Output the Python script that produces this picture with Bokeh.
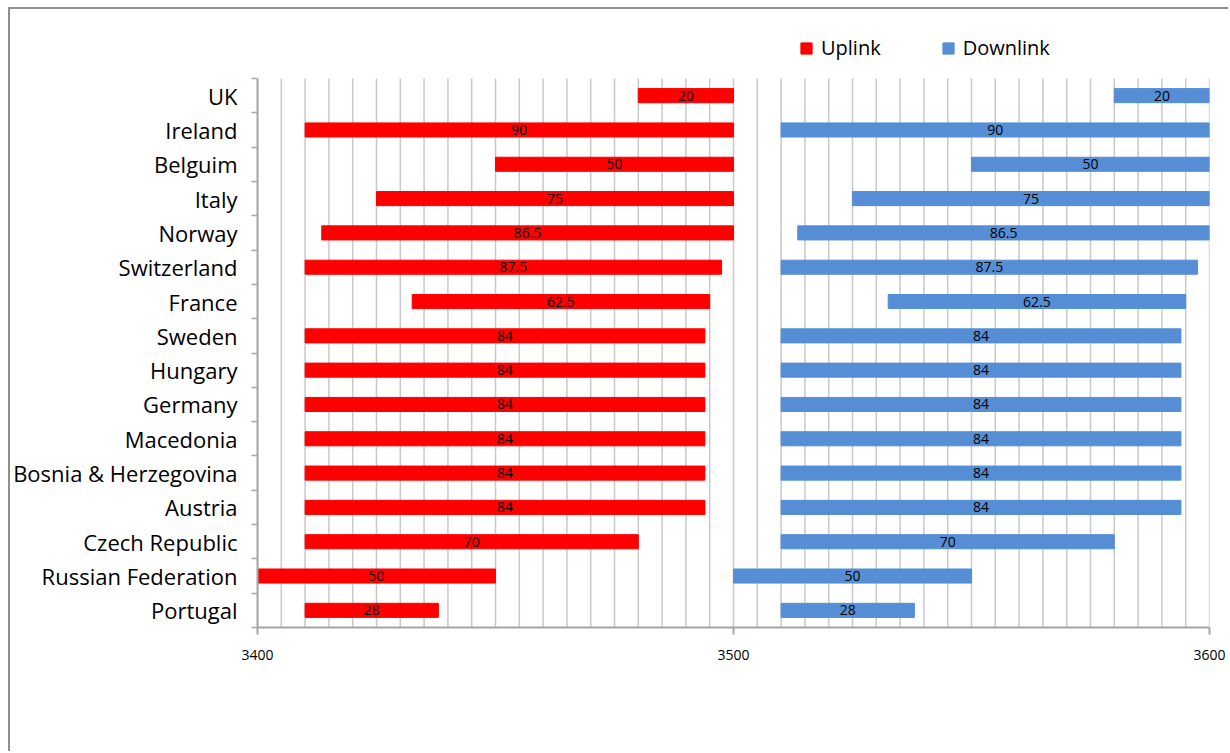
from bokeh.plotting import figure
from bokeh.models import (ColumnDataSource, FixedTicker, Range1d, Legend, LegendItem)
from bokeh.embed import file_html
from bokeh.resources import INLINE
from bokeh.core.properties import value

# ---- data (top to bottom) ----
countries = ["UK", "Ireland", "Belguim", "Italy", "Norway", "Switzerland", "France",
             "Sweden", "Hungary", "Germany", "Macedonia", "Bosnia & Herzegovina",
             "Austria", "Czech Republic", "Russian Federation", "Portugal"]
uplink_start = [3480, 3410, 3450, 3425, 3413.5, 3410, 3432.5, 3410, 3410, 3410, 3410, 3410,
                3410, 3410, 3400, 3410]
uplink_end = [3500, 3500, 3500, 3500, 3500, 3497.5, 3495, 3494, 3494, 3494, 3494, 3494,
              3494, 3480, 3450, 3438]
downlink_start = [3580, 3510, 3550, 3525, 3513.5, 3510, 3532.5, 3510, 3510, 3510, 3510, 3510,
                  3510, 3510, 3500, 3510]
downlink_end = [3600, 3600, 3600, 3600, 3600, 3597.5, 3595, 3594, 3594, 3594, 3594, 3594,
                3594, 3580, 3550, 3538]
bandwidth = ["20", "90", "50", "75", "86.5", "87.5", "62.5", "84", "84", "84", "84", "84",
             "84", "70", "50", "28"]
x_ticks = [3400, 3500, 3600]
grid_step = 5

FONT = "Open Sans"
n = len(countries)
ypos = [n - 1 - i + 0.5 for i in range(n)]
row_px = 549 / n            # pixel height of one category row
legend_rows = 58 / row_px   # extra room above the rows for the legend

src = ColumnDataSource(dict(
    y=ypos, country=countries,
    us=uplink_start, ue=uplink_end, ds=downlink_start, de=downlink_end,
    um=[(a + b) / 2 for a, b in zip(uplink_start, uplink_end)],
    dm=[(a + b) / 2 for a, b in zip(downlink_start, downlink_end)],
    bw=bandwidth,
))

p = figure(width=1220, height=744, output_backend="svg", toolbar_location=None,
           x_range=Range1d(x_ticks[0], x_ticks[-1]), y_range=Range1d(0, n + legend_rows),
           min_border_left=240, min_border_right=21, min_border_top=11, min_border_bottom=126)
p.outline_line_color = None
p.styles = {"border-left": "2px solid #8f8f8f", "border-top": "2px solid #8f8f8f",
            "margin-left": "8px", "margin-top": "7px"}

# vertical grid lines limited to the category rows
gx = list(range(x_ticks[0], x_ticks[-1] + 1, grid_step))
p.segment(x0=gx, x1=gx, y0=[0] * len(gx), y1=[n] * len(gx), line_color="#c8c8c8",
          line_width=1.5)
p.xgrid.grid_line_color = None
p.ygrid.grid_line_color = None

up = p.hbar(y="y", left="us", right="ue", height=0.41, source=src, color="#FF0000")
down = p.hbar(y="y", left="ds", right="de", height=0.41, source=src, color="#558ED5")

p.text(x="um", y="y", text="bw", source=src, text_align="center", text_baseline="middle",
       text_font=value(FONT), text_font_size="14px", text_color="#000000")
p.text(x="dm", y="y", text="bw", source=src, text_align="center", text_baseline="middle",
       text_font=value(FONT), text_font_size="14px", text_color="#000000")

# x axis
p.xaxis.ticker = FixedTicker(ticks=x_ticks)
p.xaxis.major_label_text_font = FONT
p.xaxis.major_label_text_font_size = "14px"
p.xaxis.major_label_text_color = "#000000"
p.xaxis.axis_line_color = "#a6a6a6"
p.xaxis.axis_line_width = 2
p.xaxis.major_tick_line_color = "#a6a6a6"
p.xaxis.major_tick_line_width = 2
p.xaxis.major_tick_out = 7
p.xaxis.major_tick_in = 0
p.xaxis.minor_tick_line_color = None
p.xaxis.major_label_standoff = 15

# y axis
p.yaxis.bounds = (0, n)
p.yaxis.ticker = FixedTicker(ticks=ypos, minor_ticks=list(range(0, n + 1)))
p.yaxis.major_label_overrides = {y: c for y, c in zip(ypos, countries)}
p.yaxis.major_label_text_font = FONT
p.yaxis.major_label_text_font_size = "22px"
p.yaxis.major_label_text_color = "#000000"
p.yaxis.major_tick_line_color = None
p.yaxis.major_label_standoff = 14
p.yaxis.axis_line_color = "#a6a6a6"
p.yaxis.axis_line_width = 2
p.yaxis.minor_tick_line_color = "#a6a6a6"
p.yaxis.minor_tick_line_width = 1.5
p.yaxis.minor_tick_out = 6
p.yaxis.minor_tick_in = 0

legend = Legend(items=[LegendItem(label="Uplink", renderers=[up]),
                       LegendItem(label="Downlink", renderers=[down])],
                orientation="horizontal", location=(542, 566))
legend.label_text_font = FONT
legend.label_text_font_size = "20px"
legend.label_text_color = "#000000"
legend.glyph_width = 14
legend.glyph_height = 14
legend.label_standoff = 8
legend.spacing = 60
legend.padding = 5
legend.margin = 0
legend.border_line_color = None
legend.background_fill_alpha = 0
p.add_layout(legend, "center")

open("out.html", "w").write(file_html(p, INLINE))
